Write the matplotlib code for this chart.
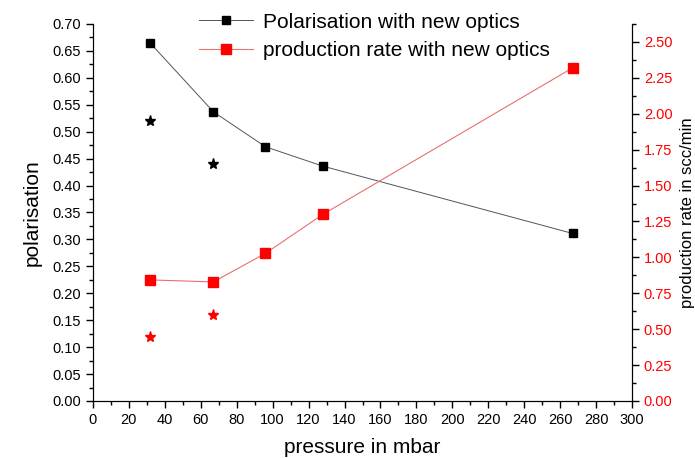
import matplotlib
matplotlib.use("Agg")
import matplotlib.pyplot as plt
from matplotlib.ticker import MultipleLocator

plt.rcParams['font.family'] = ['Liberation Sans', 'DejaVu Sans']

pressure = [32, 67, 96, 128, 267]
polarisation = [0.664, 0.537, 0.472, 0.436, 0.311]
production = [0.843, 0.829, 1.028, 1.30, 2.32]
old_pressure = [32, 67]
old_polarisation = [0.520, 0.440]
old_production = [0.448, 0.600]

fig = plt.figure(figsize=(6.95, 4.58), dpi=100)
ax = fig.add_axes([0.1338, 0.1245, 0.7756, 0.8231])
ax2 = ax.twinx()

l1, = ax.plot(pressure, polarisation, color='#555555', lw=0.7, marker='s',
              markersize=6, markerfacecolor='black', markeredgecolor='black',
              label='Polarisation with new optics', zorder=3)
ax.plot(old_pressure, old_polarisation, ls='none', marker='*', color='black',
        markersize=8)
l2, = ax2.plot(pressure, production, color='#e87070', lw=0.8, marker='s',
               markersize=7, markerfacecolor='red', markeredgecolor='red',
               label='production rate with new optics')
ax2.plot(old_pressure, old_production, ls='none', marker='*', color='red',
         markersize=8)

ax.set_xlim(0, 300)
ax.set_ylim(0, 0.70)
ax2.set_ylim(0, 2.625)

ax.xaxis.set_major_locator(MultipleLocator(20))
ax.xaxis.set_minor_locator(MultipleLocator(10))
ax.yaxis.set_major_locator(MultipleLocator(0.05))
ax.yaxis.set_minor_locator(MultipleLocator(0.025))
ax2.yaxis.set_major_locator(MultipleLocator(0.25))
ax2.yaxis.set_minor_locator(MultipleLocator(0.125))
ax.yaxis.set_major_formatter(matplotlib.ticker.FormatStrFormatter('%.2f'))
ax2.yaxis.set_major_formatter(matplotlib.ticker.FormatStrFormatter('%.2f'))

for a in (ax, ax2):
    a.spines['top'].set_visible(False)
    a.tick_params(which='major', direction='out', length=5, width=1, labelsize=10.5)
    a.tick_params(which='minor', direction='out', length=3, width=1)
ax2.tick_params(axis='y', which='major', labelcolor='red')

ax.set_xlabel('pressure in mbar', fontsize=15, labelpad=8)
ax.set_ylabel('polarisation', fontsize=15, labelpad=8)
ax2.set_ylabel('production rate in scc/min', fontsize=12, labelpad=5)

fig.legend(handles=[l1, l2], loc='upper left', bbox_to_anchor=(0.268, 1.0),
           frameon=False, fontsize=15, handlelength=2.6, handletextpad=0.5,
           labelspacing=0.45, borderaxespad=0.2)

fig.savefig('out.png', dpi=100)
